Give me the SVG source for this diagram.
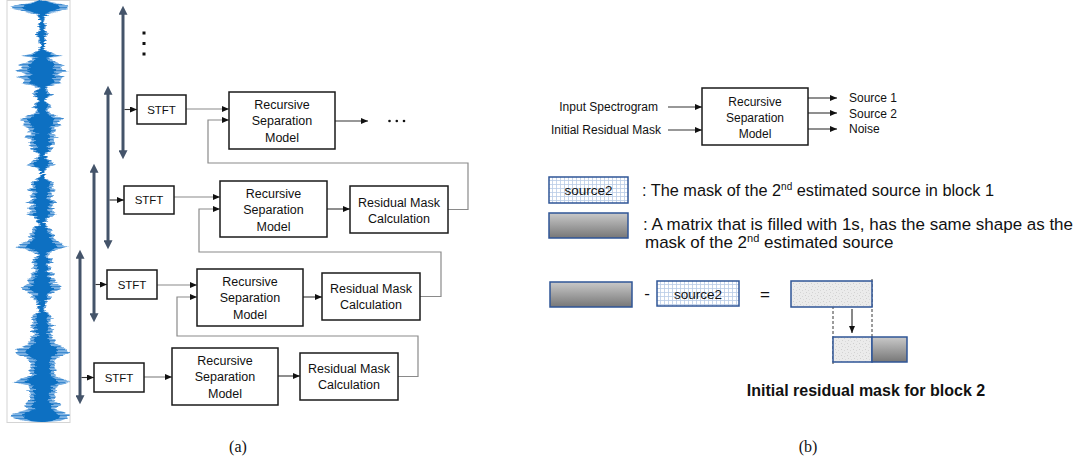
<svg xmlns="http://www.w3.org/2000/svg" xmlns:xlink="http://www.w3.org/1999/xlink" width="1080" height="463" viewBox="0 0 1080 463">
<style>
.box{fill:#fff;stroke:#1a1a1a;stroke-width:1.5}
.lbl{font-family:"Liberation Sans",Arial,sans-serif;font-size:12.5px;fill:#111;text-anchor:middle}
.stft{font-family:"Liberation Sans",Arial,sans-serif;font-size:11.5px;fill:#111;text-anchor:middle}
.rt{font-family:"Liberation Sans",Arial,sans-serif;font-size:12px;fill:#111}
.leg{font-family:"Liberation Sans",Arial,sans-serif;font-size:16.3px;fill:#111}
.gray{stroke:#8a8a8a;stroke-width:1.2;fill:none}
.dark{stroke:#333;stroke-width:1.1;fill:none}
.vbar{stroke:#44546a;stroke-width:3;fill:none}
.cap{font-family:"Liberation Serif","Times New Roman",serif;font-size:16px;fill:#111;text-anchor:middle}
.mbox{stroke:#2f5597;stroke-width:1.5}
</style>
<defs>
<marker id="big" viewBox="0 0 10 10" refX="2" refY="5" markerWidth="10" markerHeight="9" markerUnits="userSpaceOnUse" orient="auto-start-reverse">
<path d="M0,0 L10,5 L0,10 z" fill="#44546a"/>
</marker>
<marker id="sm" viewBox="0 0 7 6" refX="7" refY="3" markerWidth="7" markerHeight="6" markerUnits="userSpaceOnUse" orient="auto">
<path d="M0,0 L7,3 L0,6 z" fill="#111"/>
</marker>
<pattern id="grid" width="4" height="4" patternUnits="userSpaceOnUse">
<rect width="4" height="4" fill="#fff"/>
<path d="M0,0.5 H4 M0.5,0 V4" stroke="#b9cbe6" stroke-width="0.8"/>
</pattern>
<pattern id="speck" width="6" height="6" patternUnits="userSpaceOnUse">
<rect width="6" height="6" fill="#ebebeb"/>
<rect x="1" y="1" width="1" height="1" fill="#cfcfcf"/>
<rect x="4" y="2" width="1" height="1" fill="#d6d6d6"/>
<rect x="2" y="4" width="1" height="1" fill="#d2d2d2"/>
<rect x="5" y="5" width="1" height="1" fill="#dadada"/>
</pattern>
<pattern id="stripe" width="80" height="3" patternUnits="userSpaceOnUse">
<rect width="80" height="3" fill="#7fb3e3"/>
<rect y="1" width="80" height="1.2" fill="#3d8ad0"/>
</pattern>
<linearGradient id="gg" x1="0" y1="0" x2="0" y2="1">
<stop offset="0" stop-color="#c9c9c9"/>
<stop offset="1" stop-color="#777"/>
</linearGradient>
<filter id="jit" x="-30%" y="0" width="160%" height="100%">
<feTurbulence type="fractalNoise" baseFrequency="0.09 0.55" numOctaves="2" seed="4" result="n"/>
<feColorMatrix in="n" type="matrix" values="1 0 0 0 0  0 0 0 0 0.5  0 0 0 0 0  0 0 0 0 1" result="m"/>
<feDisplacementMap in="SourceGraphic" in2="m" scale="9" xChannelSelector="R" yChannelSelector="G"/>
</filter>
<clipPath id="wclip"><rect x="7.5" y="0" width="62.5" height="422"/></clipPath>
<path id="wave" d="M42,0 L50,2 L66,5 L70,8 L60,11 L48,14 L45,18 L44,22 L46,26 L45,30 L47,34 L45,38 L46,42 L44,46 L46,50 L54,54 L62,56 L50,58 L56,62 L64,65 L60,68 L66,71 L58,74 L64,77 L59,80 L62,83 L50,86 L46,89 L50,92 L52,95 L47,98 L45,101 L49,104 L51,107 L47,110 L50,113 L56,116 L62,119 L59,122 L61,125 L54,128 L56,131 L52,134 L57,137 L53,140 L55,143 L51,146 L52,149 L48,152 L45,155 L48,158 L52,162 L55,165 L48,168 L45,171 L44,174 L46,178 L50,181 L54,184 L51,187 L56,190 L50,193 L54,196 L52,199 L57,202 L51,205 L55,208 L52,211 L56,214 L50,217 L47,220 L45,223 L48,226 L52,229 L51,232 L55,235 L53,238 L58,241 L62,244 L67,247 L56,250 L50,253 L47,256 L51,259 L53,262 L49,265 L52,268 L49,271 L54,274 L51,277 L56,280 L54,283 L59,286 L61,289 L54,292 L51,295 L52,298 L48,301 L46,304 L45,307 L44,310 L48,313 L51,316 L53,319 L50,322 L54,325 L51,328 L53,331 L50,334 L52,337 L56,340 L54,343 L60,346 L66,349 L69,352 L64,355 L57,358 L54,361 L56,364 L53,367 L57,370 L54,373 L55,376 L64,379 L70,382 L60,385 L55,388 L58,391 L54,394 L56,397 L53,400 L58,403 L60,406 L54,409 L64,412 L70,415 L68,418 L60,421 L42,422 L24,421 L14,418 L10,415 L18,412 L30,409 L25,406 L27,403 L30,400 L29,397 L31,394 L27,391 L29,388 L25,385 L13,382 L20,379 L29,376 L31,373 L28,370 L32,367 L29,364 L31,361 L26,358 L19,355 L15,352 L18,349 L25,346 L31,343 L28,340 L32,337 L34,334 L31,331 L33,328 L30,325 L34,322 L31,319 L33,316 L36,313 L40,310 L39,307 L38,304 L36,301 L31,298 L33,295 L29,292 L22,289 L24,286 L29,283 L27,280 L33,277 L30,274 L35,271 L32,268 L35,265 L31,262 L33,259 L37,256 L34,253 L28,250 L16,247 L20,244 L26,241 L30,238 L28,235 L33,232 L32,229 L36,226 L39,223 L37,220 L34,217 L27,214 L32,211 L29,208 L33,205 L26,202 L32,199 L29,196 L34,193 L28,190 L33,187 L30,184 L34,181 L38,178 L40,174 L39,171 L36,168 L28,165 L31,162 L36,158 L39,155 L35,152 L31,149 L33,146 L28,143 L31,140 L26,137 L32,134 L27,131 L30,128 L22,125 L25,122 L20,119 L28,116 L34,113 L37,110 L33,107 L35,104 L39,101 L37,98 L32,95 L34,92 L38,89 L34,86 L21,83 L25,80 L18,77 L26,74 L17,71 L23,68 L19,65 L27,62 L34,58 L22,56 L30,54 L38,50 L40,46 L38,42 L39,38 L37,34 L39,30 L38,26 L40,22 L39,18 L34,14 L22,11 L10,8 L16,5 L34,2 Z"/>
</defs>
<rect width="1080" height="463" fill="#fff"/>

<g id="waveform">
<rect x="7" y="0.5" width="63" height="422" fill="#fff" stroke="#d4d4d4" stroke-width="1"/>
<g clip-path="url(#wclip)">
<g filter="url(#jit)">
<use xlink:href="#wave" fill="url(#stripe)"/>
<use xlink:href="#wave" fill="#0a6fc2" transform="translate(42 0) scale(0.62 1) translate(-42 0)"/>
</g>
</g>
</g>

<g id="connectors">
<line class="vbar" x1="123" y1="13" x2="123" y2="152" marker-start="url(#big)" marker-end="url(#big)"/>
<line class="vbar" x1="108" y1="93" x2="108" y2="242" marker-start="url(#big)" marker-end="url(#big)"/>
<line class="vbar" x1="94" y1="171" x2="94" y2="315" marker-start="url(#big)" marker-end="url(#big)"/>
<line class="vbar" x1="80" y1="257" x2="80" y2="397" marker-start="url(#big)" marker-end="url(#big)"/>
<line class="dark" x1="124.5" y1="109.5" x2="137" y2="109.5" marker-end="url(#sm)"/>
<line class="dark" x1="109.5" y1="200" x2="124" y2="200" marker-end="url(#sm)"/>
<line class="dark" x1="95.5" y1="284.5" x2="107" y2="284.5" marker-end="url(#sm)"/>
<line class="dark" x1="81.5" y1="377.5" x2="94" y2="377.5" marker-end="url(#sm)"/>
<path class="gray" d="M186,109 H229" marker-end="url(#sm)"/>
<path class="gray" d="M174,197 H220" marker-end="url(#sm)"/>
<path class="gray" d="M157,285 H197" marker-end="url(#sm)"/>
<path class="gray" d="M144,377 H172" marker-end="url(#sm)"/>
<path class="gray" d="M448,209.5 H468 V163 H208 V120 H229" marker-end="url(#sm)"/>
<path class="gray" d="M420,296.5 H441 V252 H199 V209 H220" marker-end="url(#sm)"/>
<path class="gray" d="M398,376.5 H418 V336 H177 V297 H197" marker-end="url(#sm)"/>
<path class="dark" d="M335,121 H368" marker-end="url(#sm)"/>
<path class="dark" d="M327,209 H350" marker-end="url(#sm)"/>
<path class="dark" d="M303,297 H322" marker-end="url(#sm)"/>
<path class="dark" d="M278,376 H300" marker-end="url(#sm)"/>
<path class="dark" d="M668,107 H702" marker-end="url(#sm)"/>
<path class="dark" d="M668,130 H702" marker-end="url(#sm)"/>
<path class="dark" d="M808,98 H837" marker-end="url(#sm)"/>
<path class="dark" d="M808,113 H837" marker-end="url(#sm)"/>
<path class="dark" d="M808,129 H837" marker-end="url(#sm)"/>
<path d="M852,309 V333" stroke="#111" stroke-width="1" fill="none" marker-end="url(#sm)"/>
<line x1="833" y1="281" x2="833" y2="364" stroke="#222" stroke-width="0.9" stroke-dasharray="3,2"/>
<line x1="872" y1="279" x2="872" y2="337" stroke="#222" stroke-width="0.9" stroke-dasharray="3,2"/>
</g>

<g id="dots">
<rect x="142.5" y="31.5" width="3" height="3" fill="#111"/>
<rect x="142.5" y="42" width="3" height="3" fill="#111"/>
<rect x="142.5" y="52.5" width="3" height="3" fill="#111"/>
<circle cx="389.5" cy="121" r="1.3" fill="#111"/>
<circle cx="396.8" cy="121" r="1.3" fill="#111"/>
<circle cx="404" cy="121" r="1.3" fill="#111"/>
</g>

<g id="stft1"><rect class="box" x="137" y="95" width="49" height="29"/><text class="stft" x="161.5" y="113.5">STFT</text></g>
<g id="stft2"><rect class="box" x="124" y="186" width="50" height="28"/><text class="stft" x="149" y="204">STFT</text></g>
<g id="stft3"><rect class="box" x="107" y="270" width="50" height="29"/><text class="stft" x="132" y="288.5">STFT</text></g>
<g id="stft4"><rect class="box" x="94" y="363" width="50" height="29"/><text class="stft" x="119" y="381.5">STFT</text></g>

<g id="rsm1"><rect class="box" x="229" y="92" width="106" height="57"/>
<text class="lbl" x="282" y="108.5">Recursive</text><text class="lbl" x="282" y="125">Separation</text><text class="lbl" x="282" y="141.5">Model</text></g>
<g id="rsm2"><rect class="box" x="220" y="181" width="107" height="56"/>
<text class="lbl" x="273.5" y="197.5">Recursive</text><text class="lbl" x="273.5" y="214">Separation</text><text class="lbl" x="273.5" y="230.5">Model</text></g>
<g id="rsm3"><rect class="box" x="197" y="269" width="106" height="57"/>
<text class="lbl" x="250" y="285.5">Recursive</text><text class="lbl" x="250" y="302">Separation</text><text class="lbl" x="250" y="318.5">Model</text></g>
<g id="rsm4"><rect class="box" x="172" y="348" width="106" height="57"/>
<text class="lbl" x="225" y="364.5">Recursive</text><text class="lbl" x="225" y="381">Separation</text><text class="lbl" x="225" y="397.5">Model</text></g>

<g id="res2"><rect class="box" x="350" y="186" width="98" height="47"/>
<text class="lbl" x="399" y="206.5">Residual Mask</text><text class="lbl" x="399" y="222.5">Calculation</text></g>
<g id="res3"><rect class="box" x="322" y="273" width="98" height="47"/>
<text class="lbl" x="371" y="292.5">Residual Mask</text><text class="lbl" x="371" y="309">Calculation</text></g>
<g id="res4"><rect class="box" x="300" y="353" width="98" height="47"/>
<text class="lbl" x="349" y="372.5">Residual Mask</text><text class="lbl" x="349" y="389">Calculation</text></g>

<g id="inputs">
<text class="rt" x="658" y="111" text-anchor="end">Input Spectrogram</text>
<text class="rt" x="661" y="134" text-anchor="end">Initial Residual Mask</text>
</g>
<g id="rsm-b"><rect class="box" x="702" y="88" width="106" height="57"/>
<text class="lbl" x="755" y="106" style="font-size:12px">Recursive</text><text class="lbl" x="755" y="122" style="font-size:12px">Separation</text><text class="lbl" x="755" y="138" style="font-size:12px">Model</text></g>
<g id="outputs">
<text class="rt" x="849" y="102">Source 1</text>
<text class="rt" x="849" y="117.5">Source 2</text>
<text class="rt" x="849" y="133">Noise</text>
</g>

<g id="legend1">
<rect class="mbox" x="549" y="177" width="79" height="26" fill="url(#grid)"/>
<text x="588.5" y="195" style="font-family:'Liberation Sans',Arial,sans-serif;font-size:13.5px;fill:#111;text-anchor:middle">source2</text>
<text class="leg" x="642" y="196">: The mask of the 2<tspan dy="-6" style="font-size:10px">nd</tspan><tspan dy="6"> estimated source in block 1</tspan></text>
</g>
<g id="legend2">
<rect class="mbox" x="549" y="213" width="79" height="25" fill="url(#gg)"/>
<text class="leg" x="643" y="230" textLength="430" lengthAdjust="spacingAndGlyphs">: A matrix that is filled with 1s, has the same shape as the</text>
<text class="leg" x="645" y="248" style="font-size:17px">mask of the 2<tspan dy="-6" style="font-size:11px">nd</tspan><tspan dy="6"> estimated source</tspan></text>
</g>

<g id="equation">
<rect class="mbox" x="550" y="282" width="82" height="25" fill="url(#gg)"/>
<text x="647" y="299" style="font-family:'Liberation Sans',Arial,sans-serif;font-size:17px;fill:#111;text-anchor:middle">-</text>
<rect class="mbox" x="657" y="281" width="82" height="25" fill="url(#grid)"/>
<text x="698" y="298.5" style="font-family:'Liberation Sans',Arial,sans-serif;font-size:13.5px;fill:#111;text-anchor:middle">source2</text>
<text x="765" y="300" style="font-family:'Liberation Sans',Arial,sans-serif;font-size:17px;fill:#111;text-anchor:middle">=</text>
<rect class="mbox" x="791" y="281" width="81" height="26" fill="url(#speck)"/>
<rect class="mbox" x="833" y="337" width="39" height="25" fill="url(#speck)"/>
<rect class="mbox" x="872" y="337" width="35" height="25" fill="url(#gg)"/>
<text x="866" y="396" style="font-family:'Liberation Sans',Arial,sans-serif;font-size:16px;font-weight:bold;fill:#111;text-anchor:middle">Initial residual mask for block 2</text>
</g>

<g id="captions">
<text class="cap" x="238" y="452">(a)</text>
<text class="cap" x="808" y="452">(b)</text>
</g>
</svg>
